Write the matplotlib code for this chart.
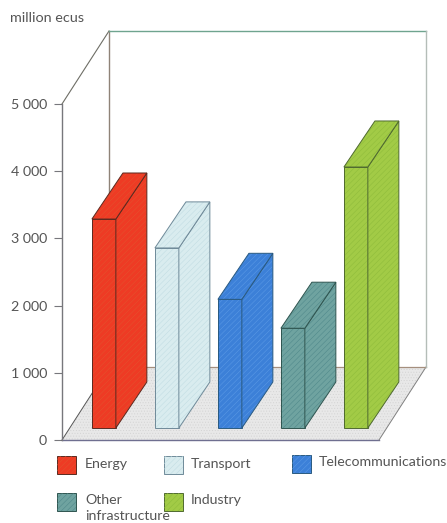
import matplotlib
matplotlib.use("Agg")
import matplotlib.pyplot as plt
from matplotlib.patches import Polygon, Rectangle

plt.rcParams['font.family'] = ['Lato', 'DejaVu Sans']
plt.rcParams['hatch.linewidth'] = 0.35

# Data
categorias = ['Energy', 'Transport', 'Telecommunications', 'Other\ninfrastructure', 'Industry']
valores = [3110, 2680, 1915, 1485, 3884]
ticks = [0, 1000, 2000, 3000, 4000, 5000]
tick_labels = ['0', '1 000', '2 000', '3 000', '4 000', '5 000']

colores = ['#ee3b24', '#d9ecef', '#3c80d8', '#6fa3a0', '#a2cb46']
tramas = ['#e2542f', '#bfdbe2', '#5d9be6', '#4d8689', '#8dba3a']
bordes = ['#5a2a20', '#6f8a99', '#2a5a80', '#2f5550', '#4f6a30']

W, H = 447, 523
fig = plt.figure(figsize=(W / 100, H / 100), dpi=100)

# Main axes: 0-5000 on y, category index on x
ax = fig.add_axes([62 / W, 1 - 440 / H, (379 - 62) / W, (440 - 104) / H])
ax.set_xlim(-0.537, 4.495)
ax.set_ylim(0, 5000)
ax.patch.set_alpha(0)
for s in ['top', 'right', 'bottom']:
    ax.spines[s].set_visible(False)
ax.spines['left'].set_color('#77777c')
ax.spines['left'].set_linewidth(1.0)
ax.set_xticks([])
ax.set_yticks(ticks)
ax.set_yticklabels(tick_labels, fontsize=10.3, color='#555555')
ax.tick_params(axis='y', length=5.8, width=0.8, color='#77777c', pad=5)

# Depth of the box in data units
prof_x = 0.746
prof_y = 1086
prof_x_barra = 0.78
x0, x1 = ax.get_xlim()
y_max = 5000


def proyecta(x, v, d, px_d=prof_x):
    return (x + px_d * d, v + prof_y * d)


# Floor
suelo = [proyecta(x0, 0, 0), proyecta(x1, 0, 0), proyecta(x1, 0, 1), proyecta(x0, 0, 1)]
ax.add_patch(Polygon(suelo, closed=True, facecolor='#e8e8e8', edgecolor='#d2d2d2', hatch='......',
                     lw=0, clip_on=False, zorder=1))

# Walls and box edges
ax.plot(*zip(proyecta(x0, 0, 0), proyecta(x1, 0, 0)), color='#6f6f90', lw=1.0, clip_on=False, zorder=2)
ax.plot(*zip(proyecta(x1, 0, 0), proyecta(x1, 0, 1)), color='#808080', lw=0.7, clip_on=False, zorder=2)
ax.plot(*zip(proyecta(x0, 0, 0), proyecta(x0, 0, 1)), color='#555555', lw=0.7, clip_on=False, zorder=2)
ax.plot(*zip(proyecta(x0, 0, 1), proyecta(x1, 0, 1)), color='#a58f7e', lw=0.9, clip_on=False, zorder=2)
ax.plot(*zip(proyecta(x0, y_max, 0), proyecta(x0, y_max, 1)), color='#6e6e66', lw=0.8, clip_on=False, zorder=2)
ax.plot(*zip(proyecta(x0, 0, 1), proyecta(x0, y_max, 1)), color='#8f8378', lw=1.0, clip_on=False, zorder=2)
ax.plot(*zip(proyecta(x0, y_max, 1), proyecta(x1, y_max, 1)), color='#6fa48f', lw=1.0, clip_on=False, zorder=2)
ax.plot(*zip(proyecta(x1, y_max, 1), proyecta(x1, 0, 1)), color='#b4bdb8', lw=1.0, clip_on=False, zorder=2)

# Bars
ancho = 0.38
d_ini = 0.164
d_fin = 0.795
for i, v in enumerate(valores):
    iz = i - ancho / 2
    de = i + ancho / 2
    a, b = d_ini, d_fin
    k = prof_x_barra
    caras = [
        [proyecta(iz, 0, a, k), proyecta(de, 0, a, k), proyecta(de, v, a, k), proyecta(iz, v, a, k)],
        [proyecta(de, 0, a, k), proyecta(de, 0, b, k), proyecta(de, v, b, k), proyecta(de, v, a, k)],
        [proyecta(iz, v, a, k), proyecta(de, v, a, k), proyecta(de, v, b, k), proyecta(iz, v, b, k)],
    ]
    for cara in caras:
        ax.add_patch(Polygon(cara, closed=True, facecolor=colores[i], edgecolor=tramas[i], hatch='//////',
                             lw=0, clip_on=False, zorder=3 + i))
        ax.add_patch(Polygon(cara, closed=True, fill=False, edgecolor=bordes[i], lw=0.7,
                             clip_on=False, zorder=3 + i))

# Pixel overlay for the unit label and the legend
px = fig.add_axes([0, 0, 1, 1])
px.set_xlim(0, W)
px.set_ylim(H, 0)
px.axis('off')
px.patch.set_alpha(0)

px.text(10, 18, 'million ecus', fontsize=10.4, color='#555555', va='center', ha='left')

caja_x = [57, 164, 292, 57, 164]
caja_y = [456, 456, 455, 493, 493]
texto_x = [85, 191, 319, 85, 191]
for i, nombre in enumerate(categorias):
    px.add_patch(Rectangle((caja_x[i], caja_y[i]), 19, 18, facecolor=colores[i], edgecolor=bordes[i],
                           lw=0.7, zorder=2))
    px.add_patch(Rectangle((caja_x[i], caja_y[i]), 19, 18, facecolor='none', edgecolor=tramas[i],
                           hatch='//////', lw=0, zorder=3))
    px.text(texto_x[i], caja_y[i] + 1.5, nombre, fontsize=10.2, color='#555555', va='top', ha='left',
            linespacing=1.4)

fig.savefig('out.png', dpi=100)
